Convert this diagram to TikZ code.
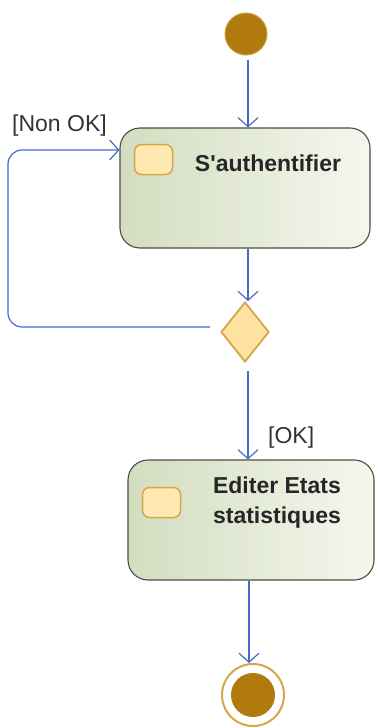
\documentclass[tikz,border=0pt]{standalone}
\usepackage{fontspec}
\setmainfont{Liberation Sans}
\usetikzlibrary{shapes.geometric,arrows.meta}
\definecolor{flowblue}{HTML}{4A68CC}
\definecolor{gold}{HTML}{B07A0E}
\definecolor{goldedge}{HTML}{D4A84A}
\definecolor{iconfill}{HTML}{FFE9B0}
\definecolor{boxedge}{HTML}{4E4E40}
\definecolor{boxleft}{HTML}{D3DDBF}
\definecolor{boxright}{HTML}{F5F7EF}
\tikzset{
  flow/.style={draw=flowblue, line width=1.2pt, -{Straight Barb[length=9pt,width=20pt,line width=1.2pt]}},
  action/.style={draw=boxedge, line width=1.1pt, rounded corners=20pt, left color=boxleft, right color=boxright, minimum height=120pt, inner sep=0pt},
  icon/.style={draw=goldedge, fill=iconfill, line width=1.5pt, rounded corners=7pt, minimum width=38pt, minimum height=30pt, inner sep=0pt},
  label/.style={font=\fontsize{23pt}{30pt}\selectfont, text=black!80, inner sep=0pt},
  title/.style={font=\fontsize{23pt}{30pt}\selectfont\bfseries, text=black!85, inner sep=0pt, align=center},
  decision/.style={diamond, draw=goldedge, fill=iconfill!92!orange, line width=1.8pt, minimum width=48pt, minimum height=60pt, inner sep=0pt},
}
\begin{document}
\begin{tikzpicture}[x=1pt,y=-1pt]
\useasboundingbox (0,0) rectangle (376,728);
% initial node
\node[circle, fill=gold, draw=goldedge!80!gold, line width=1pt, minimum size=42pt, inner sep=0pt] (init) at (246,34) {};
% action 1
\node[action, minimum width=250pt] (b1) at (245,188) {};
\node[icon] (i1) at (153.5,159.5) {};
\node[title] (t1) at (268,163) {S\textquotesingle authentifier};
% decision
\node[decision] (d) at (245,332) {};
% action 2
\node[action, minimum width=246pt] (b2) at (251,520) {};
\node[icon] (i2) at (161.5,502.5) {};
\node[title] (t2) at (277,503) {Editer Etats\\statistiques};
% final node
\node[circle, draw=goldedge, fill=white, line width=2pt, minimum size=62pt, inner sep=0pt] (fin) at (253,695) {};
\node[circle, fill=gold, minimum size=44pt, inner sep=0pt] (fin2) at (fin) {};
% loop corner
\coordinate (lx) at (8,150);
\coordinate (ls) at (210,327);
% connectors
\draw[flow, shorten <=4pt] (init.south -| 248,0) -- (248,0 |- b1.north);
\draw[flow] (248,0 |- b1.south) -- (248,0 |- d.north);
\draw[flow, rounded corners=14pt] (ls) -- (ls -| lx) -- (lx) -- (lx -| b1.west);
\draw[flow, shorten <=8pt] (248,0 |- d.south) -- (248,0 |- b2.north);
\draw[flow] (249,0 |- b2.south) -- (249,0 |- fin.north);
% guard labels
\node[label, anchor=base west] (nok) at (12,131) {[Non OK]};
\node[label, anchor=base west] (ok) at (268,443) {[OK]};
\end{tikzpicture}
\end{document}
